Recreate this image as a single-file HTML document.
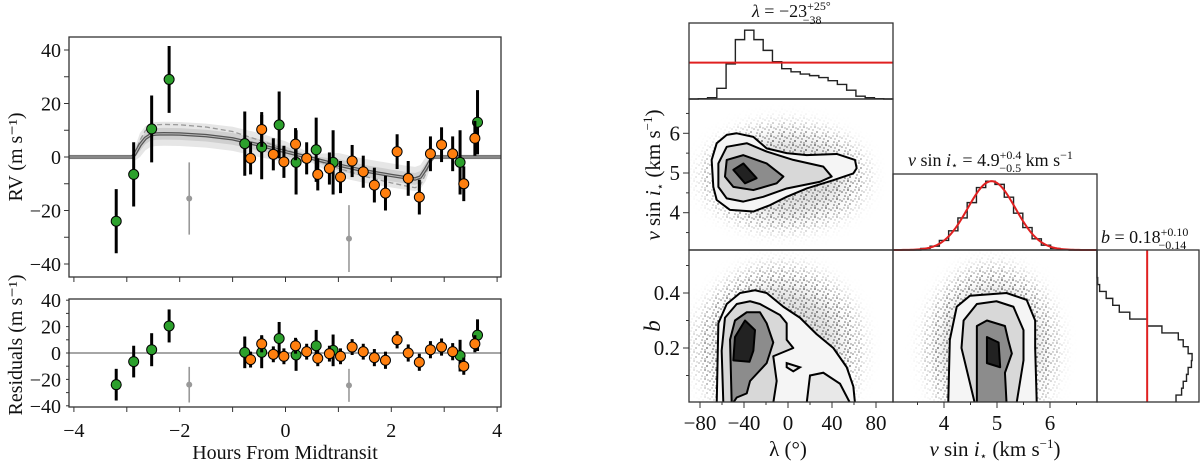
<!DOCTYPE html>
<html><head><meta charset="utf-8">
<style>
html,body{margin:0;padding:0;background:#fff;}
svg{display:block;}
svg text{font-family:"Liberation Serif","DejaVu Serif","Noto Serif CJK SC",serif;}
</style></head>
<body>
<svg id="fig" width="1200" height="463" viewBox="0 0 1200 463" xmlns="http://www.w3.org/2000/svg">
<defs>
<filter id="blur8" x="-50%" y="-50%" width="200%" height="200%"><feGaussianBlur stdDeviation="9"/></filter>
<pattern id="speck" width="11" height="9" patternUnits="userSpaceOnUse">
<circle cx="1" cy="1" r="0.9" fill="#444"/><circle cx="6" cy="3" r="0.8" fill="#555"/><circle cx="3" cy="6" r="0.9" fill="#444"/><circle cx="9" cy="7" r="0.8" fill="#555"/><circle cx="8" cy="1" r="0.7" fill="#666"/><circle cx="4" cy="2" r="0.7" fill="#666"/><circle cx="10" cy="4" r="0.7" fill="#555"/><circle cx="1" cy="8" r="0.7" fill="#666"/>
</pattern>
<clipPath id="cTop"><rect x="69" y="37" width="432" height="240"/></clipPath>
<clipPath id="cRes"><rect x="69" y="299" width="432" height="108"/></clipPath>
<clipPath id="cA"><rect x="689" y="99" width="204" height="151"/></clipPath>
<clipPath id="cB"><rect x="689" y="250" width="204" height="152"/></clipPath>
<clipPath id="cC"><rect x="893" y="250" width="204" height="152"/></clipPath>
</defs>
<g id="layer"></g>
</svg>
<script>
// ---------------- RV data ----------------
const greenT   = [-3.2,-2.87,-2.53,-2.2,-0.77,-0.45,-0.12,0.2,0.58,0.9,3.3,3.63];
const greenRV  = [-24,-6.5,10.5,29,5,3.7,12,-2,2.7,-2,-2,13];
const greenErr = [12,12,12.5,12.5,12,12,12.5,12,12,12,12,12];
const greenRes = [-24,-6.5,2.5,20.5,0.5,0.5,11,-1.5,5.5,2,-2,13.5];
const orangeT   = [-0.66,-0.45,-0.23,-0.03,0.19,0.4,0.61,0.83,1.04,1.26,1.47,1.68,1.89,2.11,2.32,2.53,2.74,2.95,3.16,3.37,3.58];
const orangeRV  = [-0.5,10.3,1,-1.8,4.8,-0.5,-6.5,-4.3,-7.5,-1.5,-5.5,-10.5,-13.5,2,-8,-15,1.2,4.6,1.2,-10,7];
const orangeErr = [6,6.5,6,6,6,6,6,6,6,6,6,6.5,6.5,6.5,6.5,6.5,6.5,6.5,6.5,6.5,6.5];
const orangeRes = [-5,7,-1,-2.5,5.5,1,-4,-0.5,-2.5,4.5,1,-3.5,-5.5,10,0,-7,2.5,4.5,1,-10,7];
const grayT   = [-1.82,1.2];
const grayRV  = [-15.5,-30.5];
const grayErr = [13.5,12.5];
const grayRes = [-24,-24.5];
const modelT  = [-4.2,-2.9,-2.85,-2.75,-2.65,-2.55,-2.45,-2.3,-2,-1.5,-1,-0.5,0,0.5,1,1.5,2,2.3,2.45,2.55,2.65,2.75,2.8,4.2];
const modelRV = [0,0,1,4.5,7,8.3,8.6,8.7,8.6,8,6.8,4.5,2,-0.5,-3,-5.2,-6.9,-7.8,-8.2,-7.5,-4.5,-1,0,0];
const dashedScale = 1.4;
const bandOuter = 4.5, bandInner = 2.2;
const rvTicks = [-40,-20,0,20,40];
const resTicks = [-40,-20,0,20,40];
const hourTicks = [-4,-2,0,2,4];

// ---------------- corner data ----------------
const lamHist = [0,1,4,34,111,188,218,188,154,118,96,86,79,74,68,58,46,28,9,4,1,0];
const lamPrior = 115;
const vHist = [0,0,0,5,12,30,60,100,148,195,215,205,165,115,70,35,15,5,1,0,0,0];
const vGauss = [4.9,0.45,215];
const bHist = [241,258,263,273,278,288,290,278,263,248,198,153,100,68,48,28,8,2,0,0,0,0];
const bPrior = 153;
const lamTicks = [-80,-40,0,40,80];
const vTicks = [4,5,6];
const bTicks = [0.2,0.4];
const cLV = [
 [[-64.8,5.75],[-55.7,5.96],[-46.6,6.0],[-31.5,5.91],[-19.4,5.62],[-1.2,5.5],[17,5.45],[44.3,5.48],[60.9,5.33],[62.4,5.12],[59.4,4.99],[41.2,4.82],[17,4.61],[-1.2,4.4],[-16.4,4.19],[-31.5,4.03],[-52.7,4.07],[-64.8,4.32],[-67.9,4.65],[-69.4,5.33]],
 [[-55.7,5.66],[-37.5,5.75],[-19.4,5.54],[4.8,5.33],[32.1,5.16],[39.7,4.91],[29.1,4.78],[-1.2,4.61],[-22.5,4.4],[-40.6,4.28],[-55.7,4.36],[-63.3,4.65],[-63.3,5.24]],
 [[-55.7,5.33],[-40.6,5.45],[-19.4,5.24],[-4.2,4.91],[-10.3,4.74],[-31.5,4.57],[-49.7,4.65],[-57.3,4.91]],
 [[-49.7,5.08],[-40.6,5.24],[-28.5,4.87],[-39.1,4.74]]
];
const cLB = [
 [[-64.8,0],[-63.3,0.29],[-55.7,0.36],[-43.6,0.40],[-30,0.41],[-19.4,0.40],[-4.2,0.35],[10.9,0.31],[26.1,0.25],[41.2,0.20],[53.4,0.13],[59.4,0.06],[60.9,0]],
 [[-58.8,0],[-60.3,0.19],[-57.3,0.31],[-46.6,0.36],[-34.5,0.37],[-25.5,0.36],[-7.3,0.32],[-1.2,0.29],[-1.2,0.23],[4.8,0.2],[-13.4,0.17],[-10.3,0.08],[-13.4,0]],
 [[-51.2,0],[-52.7,0.23],[-48.2,0.30],[-37.5,0.33],[-25.5,0.33],[-19.4,0.29],[-13.4,0.22],[-19.4,0.145],[-34.5,0.08],[-37.5,0.035],[-46.6,0.02],[-50,0]],
 [[-49.7,0.155],[-48.2,0.24],[-39.1,0.30],[-30,0.265],[-31.5,0.19],[-35,0.15]]
];
const cLBextra = [
 [[17,0],[20,0.1],[32.1,0.11],[47.3,0.07],[56.4,0]],
 [[-1.2,0.145],[10.9,0.13],[4.8,0.115],[-1.2,0.13]]
];
const cVB = [
 [[4.08,0],[4.11,0.23],[4.24,0.35],[4.49,0.39],[5.18,0.40],[5.56,0.375],[5.72,0.30],[5.72,0.20],[5.75,0]],
 [[4.58,0],[4.33,0.2],[4.37,0.30],[4.62,0.36],[4.99,0.37],[5.31,0.35],[5.5,0.265],[5.5,0.155],[5.37,0]],
 [[4.62,0],[4.62,0.28],[4.81,0.30],[5.15,0.28],[5.21,0.23],[5.28,0.18],[5.15,0.11],[5.18,0]],
 [[4.81,0.24],[5.03,0.22],[5.06,0.13],[4.81,0.145]]
];

const NS='http://www.w3.org/2000/svg';
const FONT='"Liberation Serif", "DejaVu Serif", serif';
const root=document.getElementById('layer');
function mk(tag,attrs,parent){const e=document.createElementNS(NS,tag);for(const k in attrs)e.setAttribute(k,attrs[k]);(parent||root).appendChild(e);return e;}
function txt(x,y,s,size,anchor,parent){const t=mk('text',{x:x,y:y,'font-size':size,'text-anchor':anchor||'middle',fill:'#111','font-family':FONT},parent);t.textContent=s;return t;}

const hx = t=>285.5+52.9*t;
const ry = v=>157-2.675*v;
const rsy = v=>353-1.32*v;
const lx = l=>788+1.1*l;
const vy = v=>173-39.7*(v-5);
const by = b=>403-275*b;
const vx = v=>944+53*(v-4);

// ===== left top panel =====
const gTop=mk('g',{'clip-path':'url(#cTop)'});


function bandPath(off){let up=modelT.map((t,i)=>hx(t)+','+ry(modelRV[i]+off*Math.min(1,Math.abs(modelRV[i])/3+0.2)));let dn=modelT.map((t,i)=>hx(t)+','+ry(modelRV[i]-off*Math.min(1,Math.abs(modelRV[i])/3+0.2))).reverse();return 'M'+up.join('L')+'L'+dn.join('L')+'Z';}
const bo=mk('path',{d:bandPath(bandOuter),fill:'#e6e6e6'},gTop);

const bi=mk('path',{d:bandPath(bandInner),fill:'#cfcfcf'},gTop);

const dl=mk('polyline',{points:modelT.map((t,i)=>hx(t)+','+ry(modelRV[i]*dashedScale)).join(' '),fill:'none',stroke:'#999','stroke-width':1.3,'stroke-dasharray':'5,3'},gTop);

mk('polyline',{points:modelT.map((t,i)=>hx(t)+','+ry(modelRV[i])).join(' '),fill:'none',stroke:'#555','stroke-width':3.5},gTop);
const ml=mk('polyline',{points:modelT.map((t,i)=>hx(t)+','+ry(modelRV[i])).join(' '),fill:'none',stroke:'#bbb','stroke-width':1},gTop);


function drawPts(g,T,V,E,ys,color,name){
  T.forEach((t,i)=>{
    const x=hx(t),y=ys(V[i]);
    const grp=mk('g',{},g);
    
    
    if(color==='gray'){
      mk('line',{x1:x,x2:x,y1:ys(V[i]+E[i]),y2:ys(V[i]-E[i]),stroke:'#999','stroke-width':1.6},grp);
      mk('circle',{cx:x,cy:y,r:3,fill:'#999'},grp);
    }else{
      mk('line',{x1:x,x2:x,y1:ys(V[i]+E[i]),y2:ys(V[i]-E[i]),stroke:'#000','stroke-width':3},grp);
      mk('circle',{cx:x,cy:y,r:5,fill:color,stroke:'#000','stroke-width':1},grp);
    }
  });
}
drawPts(gTop,grayT,grayRV,grayErr,ry,'gray','excluded-point');
drawPts(gTop,greenT,greenRV,greenErr,ry,'#2ca02c','green-rv-point');
drawPts(gTop,orangeT,orangeRV,orangeErr,ry,'#ff7f0e','orange-rv-point');

// ===== residual panel =====
const gRes=mk('g',{'clip-path':'url(#cRes)'});


mk('line',{x1:69,x2:501,y1:rsy(0),y2:rsy(0),stroke:'#999','stroke-width':1.8},gRes);
drawPts(gRes,grayT,grayRes,grayErr,rsy,'gray','excluded-residual');
drawPts(gRes,greenT,greenRes,greenErr,rsy,'#2ca02c','green-residual');
drawPts(gRes,orangeT,orangeRes,orangeErr,rsy,'#ff7f0e','orange-residual');

function frame(x,y,w,h,name){const r=mk('rect',{x:x,y:y,width:w,height:h,fill:'none',stroke:'#333','stroke-width':1.3});}
frame(69,37,432,240,'rv-axes-frame');
frame(69,299,432,108,'residual-axes-frame');
for(let t=-4;t<=4;t++){mk('line',{x1:hx(t),x2:hx(t),y1:277,y2:282,stroke:'#333'});mk('line',{x1:hx(t),x2:hx(t),y1:407,y2:412,stroke:'#333'});}
for(let v=-40;v<=40;v+=10){mk('line',{x1:64,x2:69,y1:ry(v),y2:ry(v),stroke:'#333'});mk('line',{x1:66,x2:69,y1:rsy(v),y2:rsy(v),stroke:'#333'});}
rvTicks.forEach(v=>{const t=txt(61,ry(v)+7,(v<0?'\u2212':'')+Math.abs(v),20,'end');});
resTicks.forEach(v=>{const t=txt(61,rsy(v)+7,(v<0?'\u2212':'')+Math.abs(v),20,'end');});
hourTicks.forEach(h=>{const t=txt(hx(h),437,(h<0?'\u2212':'')+Math.abs(h),20);});
let t1=txt(285,459,'Hours From Midtransit',20);
let t2=txt(0,0,'RV (m s\u207B\u00B9)',20);t2.setAttribute('transform','translate(22,157) rotate(-90)');
let t3=txt(0,0,'Residuals (m s\u207B\u00B9)',20);t3.setAttribute('transform','translate(22,345) rotate(-90)');

// ===== corner =====
let mid=0;
function cloud(g,cx,cy,rx,ryy){
  const id='m'+(mid++);
  const m=mk('mask',{id:id},g);
  mk('rect',{x:0,y:0,width:1200,height:463,fill:'#000'},m);
  mk('ellipse',{cx:cx,cy:cy,rx:rx,ry:ryy,fill:'#fff',filter:'url(#blur8)'},m);
  mk('ellipse',{cx:cx,cy:cy,rx:rx*0.75,ry:ryy*0.75,fill:'#aaa',opacity:0.35,filter:'url(#blur8)'},g);
  mk('rect',{x:0,y:0,width:1200,height:463,fill:'url(#speck)',mask:'url(#'+id+')'},g);
}
const fills=['#f5f5f5','#d8d8d8','#8c8c8c','#222'];
function contours(g,set,X,Y,name){
  set.forEach((poly,k)=>{
    const p=mk('polygon',{points:poly.map(q=>X(q[0])+','+Y(q[1])).join(' '),fill:fills[k],stroke:'#000','stroke-width':2,'stroke-linejoin':'round'},g);
    
    
  });
}
const gA=mk('g',{'clip-path':'url(#cA)'});

cloud(gA,lx(-3),vy(4.9),82,52);
contours(gA,cLV,lx,vy,'lambda-vsini-contour');
const gB=mk('g',{'clip-path':'url(#cB)'});

cloud(gB,lx(-8),by(0.2),82,82);
contours(gB,cLB,lx,by,'lambda-b-contour');
cLBextra.forEach(poly=>{const p=mk('polygon',{points:poly.map(q=>lx(q[0])+','+by(q[1])).join(' '),fill:'#e8e8e8',stroke:'#000','stroke-width':2},gB);});
const gC=mk('g',{'clip-path':'url(#cC)'});

cloud(gC,vx(4.9),by(0.2),65,82);
contours(gC,cVB,vx,by,'vsini-b-contour');

function stepPath(counts,x0,x1,base,scale,horizontal){
  const n=counts.length,w=(x1-x0)/n;let d='';
  counts.forEach((c,i)=>{const a=x0+i*w,b=a+w,v=base-c*scale;
    if(!horizontal) d+=(i?'L':'M')+a+','+v+'L'+b+','+v;
    else d+=(i?'L':'M')+(base+c*scale)+','+a+'L'+(base+c*scale)+','+b;});
  return d;
}
const hl=mk('path',{d:stepPath(lamHist,689,893,99,72/228,false),fill:'none',stroke:'#222','stroke-width':1.4});

const pl=mk('line',{x1:689,x2:893,y1:99-lamPrior*72/228,y2:99-lamPrior*72/228,stroke:'#e02020','stroke-width':2});


const hv=mk('path',{d:stepPath(vHist,893,1097,250,73/228,false),fill:'none',stroke:'#222','stroke-width':1.4});

let gp=[];for(let x=893;x<=1097;x+=2){const v=3.04+(x-893)/53;gp.push(x+','+(250-vGauss[2]*Math.exp(-0.5*Math.pow((v-vGauss[0])/vGauss[1],2))*73/228));}
const gl=mk('polyline',{points:gp.join(' '),fill:'none',stroke:'#e02020','stroke-width':2});


const hb=mk('path',{d:stepPath(bHist.slice().reverse(),250,402,1097,100/305,true),fill:'none',stroke:'#222','stroke-width':1.4});

const bl=mk('line',{x1:1097+bPrior*100/305,x2:1097+bPrior*100/305,y1:250,y2:402,stroke:'#e02020','stroke-width':2});


frame(689,23,204,76,'lambda-hist-frame');
frame(689,99,204,151,'lambda-vsini-frame');
frame(689,250,204,152,'lambda-b-frame');
frame(893,174,204,76,'vsini-hist-frame');
frame(893,250,204,152,'vsini-b-frame');
frame(1097,250,102,152,'b-hist-frame');

for(let l=-80;l<=80;l+=20){mk('line',{x1:lx(l),x2:lx(l),y1:402,y2:l%40===0?408:405,stroke:'#333'});}
for(let v=3.5;v<=6.6;v+=0.5){mk('line',{x1:v%1===0?683:686,x2:689,y1:vy(v),y2:vy(v),stroke:'#333'});mk('line',{x1:vx(v),x2:vx(v),y1:402,y2:v%1===0?408:405,stroke:'#333'});}
for(let k=1;k<=5;k++){const b=k/10;mk('line',{x1:k%2===0?683:686,x2:689,y1:by(b),y2:by(b),stroke:'#333'});}
lamTicks.forEach(l=>{const t=txt(lx(l),430,(l<0?'\u2212':'')+Math.abs(l),21);});
vTicks.forEach(v=>{const t=txt(vx(v),430,String(v),21);});
vTicks.forEach(v=>{const t=txt(680,vy(v)+7,String(v),21,'end');});
bTicks.forEach(b=>{const t=txt(680,by(b)+7,b.toFixed(1),21,'end');});

let l1=txt(788,456,'\u03BB (\u00B0)',21);
const vsLabel='<tspan font-style="italic">v</tspan> sin <tspan font-style="italic">i</tspan><tspan font-size="12" dy="4">\u22C6</tspan><tspan dy="-4"> (km s</tspan><tspan font-size="13" dy="-8">\u22121</tspan><tspan dy="8">)</tspan>';
let l2=mk('text',{x:995,y:456,'font-size':21,'text-anchor':'middle',fill:'#111','font-family':FONT});l2.innerHTML=vsLabel;

let l3=mk('text',{x:0,y:0,'font-size':21,'text-anchor':'middle',fill:'#111','font-family':FONT,transform:'translate(660,175) rotate(-90)'});l3.innerHTML=vsLabel;

let l4=mk('text',{x:0,y:0,'font-size':23,'text-anchor':'middle','font-style':'italic',fill:'#111','font-family':FONT,transform:'translate(660,326) rotate(-90)'});l4.textContent='b';


let h1=mk('text',{x:752,y:17,'font-size':18,fill:'#111','font-family':FONT});h1.innerHTML='<tspan font-style="italic">\u03BB</tspan> = \u221223<tspan font-size="12" dy="-7">+25\u00B0</tspan><tspan font-size="12" dx="-28" dy="14">\u221238</tspan>';

let h2=mk('text',{x:908,y:166,'font-size':18,fill:'#111','font-family':FONT});h2.innerHTML='<tspan font-style="italic">v</tspan> sin <tspan font-style="italic">i</tspan><tspan font-size="11" dy="3">\u22C6</tspan><tspan dy="-3"> = 4.9</tspan><tspan font-size="12" dy="-7">+0.4</tspan><tspan font-size="12" dx="-22" dy="13">\u22120.5</tspan><tspan dy="-6"> km s</tspan><tspan font-size="12" dy="-7">\u22121</tspan>';

let h3=mk('text',{x:1101,y:243,'font-size':18,fill:'#111','font-family':FONT});h3.innerHTML='<tspan font-style="italic">b</tspan> = 0.18<tspan font-size="12" dy="-7">+0.10</tspan><tspan font-size="12" dx="-30" dy="13">\u22120.14</tspan>';

</script>
</body></html>
